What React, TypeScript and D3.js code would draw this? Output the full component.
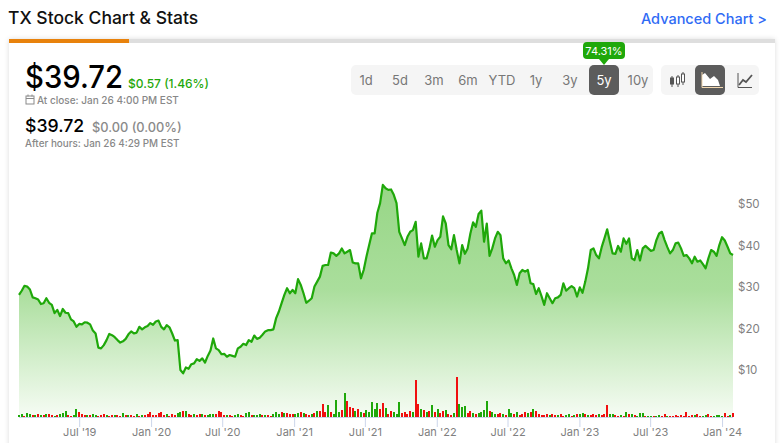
import { useRef, useEffect } from "react"
import * as d3 from "d3"

// weekly closes, starting from the first week
const startDate = new Date(2019, 0, 28)
const prices = [
  28.1, 29.1, 30.3, 30.1, 29.4, 27.5, 27.3, 27.0, 25.9, 26.1,
  27.3, 26.2, 25.7, 23.7, 24.5, 23.0, 24.7, 23.8, 23.7, 22.2,
  21.7, 20.4, 21.1, 21.0, 21.5, 21.4, 21.0, 19.5, 18.8, 15.4,
  15.2, 16.0, 17.2, 18.7, 18.4, 17.9, 17.2, 16.6, 16.9, 17.5,
  18.6, 19.3, 18.8, 19.0, 20.4, 19.8, 20.3, 20.6, 21.3, 20.9,
  21.7, 21.9, 20.4, 19.8, 20.8, 20.3, 18.8, 17.1, 17.2, 10.0,
  9.2, 10.6, 10.3, 11.4, 11.6, 12.6, 12.2, 12.8, 11.8, 13.4,
  14.7, 17.6, 15.2, 14.8, 13.8, 13.9, 13.2, 13.6, 13.4, 13.2,
  15.2, 15.6, 16.3, 16.0, 17.2, 16.8, 18.3, 17.5, 17.8, 18.5,
  19.3, 19.6, 19.6, 19.8, 22.5, 24.1, 26.1, 28.1, 29.7, 28.5,
  29.3, 28.5, 31.9, 30.5, 28.5, 26.2, 26.7, 27.3, 30.1, 31.3,
  32.5, 35.1, 35.3, 35.3, 38.3, 38.1, 37.5, 38.1, 39.3, 38.1,
  38.5, 38.9, 35.9, 35.7, 35.7, 32.1, 34.1, 37.3, 40.1, 42.9,
  42.9, 47.9, 50.2, 54.6, 53.8, 53.4, 53.5, 52.2, 50.2, 43.3,
  41.7, 40.1, 42.1, 43.3, 43.7, 45.7, 37.3, 40.5, 36.9, 36.9,
  39.3, 42.4, 39.7, 41.3, 42.1, 47.0, 45.3, 40.1, 39.1, 42.5,
  38.9, 35.7, 40.1, 38.0, 39.3, 42.9, 45.6, 44.5, 47.6, 48.4,
  40.9, 45.3, 37.5, 39.3, 41.7, 43.3, 42.5, 36.9, 35.7, 36.4,
  34.5, 32.9, 30.5, 33.3, 34.1, 33.7, 34.1, 30.9, 30.7, 28.3,
  29.7, 27.8, 25.7, 28.5, 27.3, 26.1, 27.3, 27.5, 28.1, 30.9,
  29.1, 29.7, 30.2, 29.7, 27.7, 29.9, 28.6, 31.3, 34.5, 38.9,
  39.3, 37.7, 36.9, 39.6, 41.7, 43.9, 40.9, 38.1, 38.0, 39.9,
  38.5, 41.7, 40.4, 41.7, 36.9, 36.5, 38.9, 36.4, 39.3, 39.9,
  39.3, 38.7, 38.9, 41.3, 42.9, 43.3, 41.3, 39.6, 38.1, 38.9,
  40.5, 40.7, 39.3, 37.5, 37.7, 36.9, 35.7, 37.3, 36.1, 36.4,
  35.5, 34.5, 36.9, 38.9, 38.5, 37.5, 40.1, 42.0, 41.2, 39.7,
  38.1, 37.7,
]
// positive = up week (green), negative = down week (red)
const volumes = [
  2, 3, -1, 4, 3, -2, 2, -3, 2, -2,
  3, -3, -2, 1, -2, 3, 4, 6, -2, -1,
  2, 8, -5, -3, -2, 2, -2, 3, 2, -1,
  -2, -3, 2, -1, -2, 2, -2, -1, 4, -2,
  2, -2, -1, 3, -1, 2, -2, -3, -5, -2,
  -2, -4, -5, -2, 3, -1, -3, -2, 4, 5,
  -6, 6, -3, -2, 3, -2, -3, 3, -2, 2,
  3, 3, -3, -6, -5, -2, 2, -2, -1, 2,
  3, -2, -1, 4, 5, -2, 2, 2, 3, -2,
  2, -2, -1, 3, 5, 3, -5, 4, -4, -3,
  -3, 3, 4, -5, 4, -3, -2, 3, -4, 6,
  -6, -13, -5, 12, -5, 3, 17, 5, -7, 24,
  -16, -10, -9, 6, -8, 5, -4, 7, 5, 15,
  8, 14, -8, -14, 9, -3, -6, 5, 3, 15,
  -4, -5, -3, -6, 5, -37, -13, 8, -7, 5,
  -6, 12, -5, 8, -4, -6, 7, -3, -2, 4,
  -40, 13, 10, 11, -4, -6, 4, -3, 4, 5,
  7, 16, -6, 5, 3, -3, -4, 3, -2, 8,
  4, -3, 5, -2, -3, -5, 4, -5, 8, -6,
  -3, -2, -2, -3, 2, -3, -2, 2, -3, -1,
  2, 3, -1, 2, -3, 3, 4, -3, 2, -2,
  -3, -2, 3, -2, -3, -12, 3, 3, -2, -1,
  2, -1, 5, -3, 3, -2, 1, 4, 4, -1,
  1, 1, -1, 1, 2, -1, -3, 1, -1, -1,
  -2, -1, -2, -1, -5, -1, -2, 2, -3, -1,
  1, 2, -3, -1, 1, 2, 2, 1, -4, -1,
  2, -4,
]
const priceTicks = [10, 20, 30, 40, 50]
const dateTicks = [
  new Date(2019, 6, 1), new Date(2020, 0, 1), new Date(2020, 6, 1), new Date(2021, 0, 1), new Date(2021, 6, 1),
  new Date(2022, 0, 1), new Date(2022, 6, 1), new Date(2023, 0, 1), new Date(2023, 6, 1), new Date(2024, 0, 1),
]
const ranges = ["1d", "5d", "3m", "6m", "YTD", "1y", "3y", "5y", "10y"]

const font = "Inter, 'Noto Sans', sans-serif"
const green = "#1fa80a"
const red = "#f00f0f"

const App = () => {
  const chartRef = useRef<SVGGElement>(null)

  useEffect(() => {
    const g = d3.select(chartRef.current)
    g.selectAll("*").remove()

    const baseY = 417
    const dates = prices.map((_, i) => d3.timeWeek.offset(startDate, i))
    const x = d3.scaleTime().domain([startDate, dates[dates.length - 1]]).range([19, 733])
    const y = d3.scaleLinear().domain([0, 50]).range([411.5, 204])
    const yVol = d3.scaleLinear().domain([0, 40]).range([baseY, baseY - 40])

    // Area and line
    const area = d3.area<number>()
      .x((_, i) => x(dates[i]))
      .y0(baseY)
      .y1((d) => y(d))
    const line = d3.line<number>()
      .x((_, i) => x(dates[i]))
      .y((d) => y(d))

    g.append("path").datum(prices).attr("d", area).attr("fill", "url(#areaFill)")
    g.append("path").datum(prices)
      .attr("d", line)
      .attr("fill", "none")
      .attr("stroke", green)
      .attr("stroke-width", 2.2)
      .attr("stroke-linejoin", "round")

    // Volume bars
    g.append("g")
      .selectAll("rect")
      .data(volumes)
      .enter()
      .append("rect")
      .attr("x", (_, i) => Math.round(x(dates[i])) - 1)
      .attr("y", (d) => yVol(Math.abs(d)))
      .attr("width", 2)
      .attr("height", (d) => baseY - yVol(Math.abs(d)))
      .attr("fill", (d) => (d > 0 ? green : red))
      .attr("shape-rendering", "crispEdges")

    // X axis
    const xAxis = g.append("g")
      .attr("transform", `translate(0,${baseY})`)
      .call(
        d3.axisBottom(x)
          .tickValues(dateTicks)
          .tickSize(10)
          .tickPadding(1)
          .tickFormat((d) => d3.timeFormat("%b '%y")(d as Date)),
      )
    xAxis.select(".domain").attr("stroke", "#ccd6eb").attr("d", "M19,0.5H733")
    xAxis.selectAll(".tick line").attr("stroke", "#ccd6eb")
    xAxis.selectAll("text").attr("fill", "#808080").style("font-size", "11px").style("font-family", font)

    // Y axis
    const yAxis = g.append("g")
      .attr("transform", "translate(733,0)")
      .call(
        d3.axisRight(y)
          .tickValues(priceTicks)
          .tickSize(0)
          .tickPadding(5)
          .tickFormat((d) => `$${d}`),
      )
    yAxis.select(".domain").remove()
    yAxis.selectAll("text").attr("fill", "#808080").style("font-size", "11.5px").style("font-family", font)
  }, [])

  return (
    <svg width={781} height={443} style={{ position: "absolute", left: 0, top: 0, background: "#fff" }} fontFamily={font}>
      <defs>
        <linearGradient id="areaFill" gradientUnits="userSpaceOnUse" x1="0" y1="185" x2="0" y2="417">
          <stop offset="0" stopColor="#97d686" />
          <stop offset="0.45" stopColor="#aade9c" />
          <stop offset="1" stopColor="#f6fcf4" />
        </linearGradient>
        <filter id="cardShadow" x="-5%" y="-5%" width="110%" height="110%">
          <feDropShadow dx="0" dy="0" stdDeviation="2.5" floodColor="#000" floodOpacity="0.14" />
        </filter>
      </defs>

      <text x={8} y={24} fontSize={17.5} fontWeight={500} fill="#111">TX Stock Chart &amp; Stats</text>
      <text x={767} y={24} fontSize={14.5} fontWeight={500} fill="#2f6bf5" textAnchor="end">Advanced Chart &gt;</text>

      <rect x={9} y={39} width={766} height={420} fill="#fff" filter="url(#cardShadow)" />
      <rect x={9} y={39} width={766} height={4} fill="#dedede" />
      <rect x={9} y={39} width={120} height={4} fill="#e8820c" />

      <text x={25} y={88} fontSize={31} fontWeight={500} fill="#000" textLength={98} lengthAdjust="spacingAndGlyphs">$39.72</text>
      <text x={128} y={88} fontSize={12} fontWeight={500} fill={green}>$0.57 (1.46%)</text>
      <g stroke="#8a8a8a" fill="none" strokeWidth={1}>
        <rect x={26} y={96} width={8} height={8} />
        <path d="M26 98.5H34M28 94.5V96.5M32 94.5V96.5" />
      </g>
      <text x={37} y={104} fontSize={10} fontWeight={500} fill="#888">At close: Jan 26 4:00 PM EST</text>
      <text x={25} y={132} fontSize={17.7} fontWeight={500} fill="#000">$39.72</text>
      <text x={92} y={132} fontSize={12.8} fontWeight={500} fill="#8a8a8a">$0.00 (0.00%)</text>
      <text x={25} y={147} fontSize={9.9} fontWeight={500} fill="#888">After hours: Jan 26 4:29 PM EST</text>

      {/* Range buttons */}
      <rect x={351} y={65} width={302} height={30} rx={5} fill="#f5f5f5" />
      <rect x={589} y={65} width={30} height={30} rx={5} fill="#5c5c5c" />
      {ranges.map((r, i) => (
        <text key={r} x={366 + i * 34} y={85} fontSize={13} textAnchor="middle" fill={r === "5y" ? "#fff" : "#777"}>{r}</text>
      ))}
      <rect x={583} y={42} width={42} height={17} rx={4} fill={green} />
      <path d="M599 59L604 65L609 59Z" fill={green} />
      <text x={604} y={55} fontSize={11} textAnchor="middle" fill="#fff">74.31%</text>

      {/* Chart type buttons */}
      <rect x={661} y={65} width={98} height={30} rx={5} fill="#f5f5f5" />
      <rect x={695} y={65} width={30} height={30} rx={5} fill="#5c5c5c" />
      <g stroke="#555" fill="none" strokeWidth={1}>
        <path d="M672 76V87M678 75V87M683 72V85" />
        <rect x={670.5} y={78} width={3} height={6} fill="#555" />
        <rect x={676.5} y={77} width={3} height={7} fill="#fff" />
        <rect x={681.5} y={74} width={3} height={8} fill="#fff" />
      </g>
      <path d="M702 86V75L705 73L710 79L714 76L718 80L720 86Z" fill="#fff" />
      <path d="M702 72V87.5H723" stroke="#f4d9b0" fill="none" strokeWidth={1} />
      <path d="M738 73V87.5H752" stroke="#555" fill="none" strokeWidth={1} />
      <path d="M739 85L743 80L746 82L752 75" stroke="#555" fill="none" strokeWidth={1.8} />

      <g ref={chartRef} />
    </svg>
  )
}

export default App
